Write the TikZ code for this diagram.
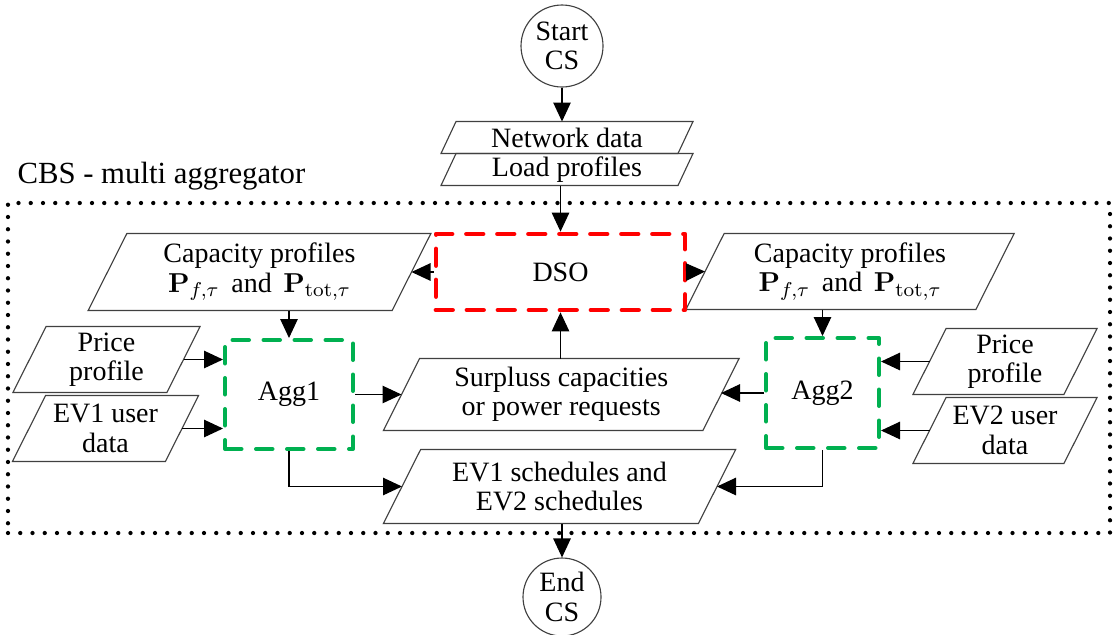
\documentclass[tikz,border=0pt]{standalone}
\usepackage[no-math]{fontspec}
\setmainfont{Liberation Serif}
\usetikzlibrary{arrows.meta}
\definecolor{aggGreen}{RGB}{0,176,80}
\definecolor{dsoRed}{RGB}{255,0,0}
\begin{document}
\begin{tikzpicture}[x=0.4pt,y=-0.4pt,
  txt/.style={font=\fontsize{11.2}{11.8}\selectfont, align=center, inner sep=0pt},
  databox/.style={txt, minimum width=#1},
  paraline/.style={draw=black!75, line width=0.45pt},
  term/.style={txt, circle, draw=black!75, line width=0.45pt, minimum size=32.8pt},
  aggbox/.style={txt, draw=aggGreen, line width=1.6pt, dash pattern=on 6.6pt off 5.8pt, line cap=round, line join=round},
  dsobox/.style={txt, draw=dsoRed, line width=1.9pt, dash pattern=on 6.6pt off 5.8pt, line cap=round, line join=round},
  frame/.style={draw, line width=1.7pt, dash pattern=on 0pt off 4.9pt, line cap=round},
  conn/.style={draw, line width=0.45pt, -{Triangle[length=7.6pt,width=7pt]}}
]
\useasboundingbox (0,0) rectangle (1117,634);

% dotted frame
\node[frame, minimum width=440.8pt, minimum height=132pt, inner sep=0pt] (cbs) at (559,368) {};
\node[anchor=base west, inner sep=0pt, font=\fontsize{12.3}{14}\selectfont] (cbslbl) at (17,183) {CBS - multi aggregator};

% terminals
\node[term] (start) at (562,46) {Start\\CS};
\node[term, minimum size=31.2pt] (end) at (562,597) {End\\CS};

% data nodes (parallelogram outlines drawn below)
\node[databox=94.4pt, minimum height=12.4pt] (net) at (567,137.5) {Network data};
\node[databox=94.4pt, minimum height=12.4pt] (load) at (567,169.5) {Load profiles};
\node[databox=121.2pt, minimum height=30.4pt] (capL) at (259.5,272) {Capacity profiles\\$\mathbf{P}_{f,\tau}$ \,and\, $\mathbf{P}_{\mathrm{tot},\tau}$};
\node[databox=115.6pt, minimum height=30pt] (capR) at (850,271.5) {Capacity profiles\\$\mathbf{P}_{f,\tau}$ \,and\, $\mathbf{P}_{\mathrm{tot},\tau}$};
\node[databox=61.2pt, minimum height=26pt] (priceL) at (106.5,359.5) {Price\\profile};
\node[databox=60.8pt, minimum height=26pt] (ev1) at (105.5,428.5) {EV1 user\\data};
\node[databox=60pt, minimum height=26pt] (priceR) at (1005,361.5) {Price\\profile};
\node[databox=60pt, minimum height=26pt] (ev2) at (1005,430.5) {EV2 user\\data};
\node[databox=127.4pt, minimum height=28.4pt] (surp) at (561.25,394.5) {Surpluss capacities\\or power requests};
\node[databox=125.6pt, minimum height=29.2pt] (sched) at (559.5,486.5) {EV1 schedules and\\EV2 schedules};

\foreach \q/\h in {net/3.0, load/3.0, capL/7.75, capR/7.65, priceL/6.63, ev1/6.63, priceR/6.63, ev2/6.63, surp/7.24, sched/7.45}{
  \draw[paraline] ([xshift=\h pt]\q.north west) -- ([xshift=\h pt]\q.north east)
     -- ([xshift=-\h pt]\q.south east) -- ([xshift=-\h pt]\q.south west) -- cycle;
}

% process boxes
\node[dsobox, minimum width=99.6pt, minimum height=30.4pt] (dso) at (560.5,272) {DSO};
\node[aggbox, minimum width=51.2pt, minimum height=43.6pt] (agg1) at (289,394.5) {Agg1};
\node[aggbox, minimum width=45.2pt, minimum height=44pt] (agg2) at (822.5,393) {Agg2};

% connectors
\draw[conn] (start.south) -- (start.south |- net.north);
\draw[conn] (dso.north |- load.south) -- (dso.north);
\draw[conn] (dso.west) -- (capL.east);
\draw[conn] (dso.east) -- (capR.west);
\draw[conn] (agg1.north |- capL.south) -- (agg1.north);
\draw[conn] (agg2.north |- capR.south) -- (agg2.north);
\draw[conn] (priceL.east) -- (priceL.east -| agg1.west);
\draw[conn] (ev1.east) -- (ev1.east -| agg1.west);
\draw[conn] (priceR.west) -- (priceR.west -| agg2.east);
\draw[conn] (ev2.west) -- (ev2.west -| agg2.east);
\draw[conn] (agg1.east) -- (surp.west);
\draw[conn] (agg2.west) -- (agg2.west -| surp.east);
\draw[conn] (dso.south |- surp.north) -- (dso.south);
\draw[conn] (agg1.south) |- (sched.west);
\draw[conn] (agg2.south) |- (sched.east);
\draw[conn] (end.north |- sched.south) -- (end.north);
\end{tikzpicture}
\end{document}
